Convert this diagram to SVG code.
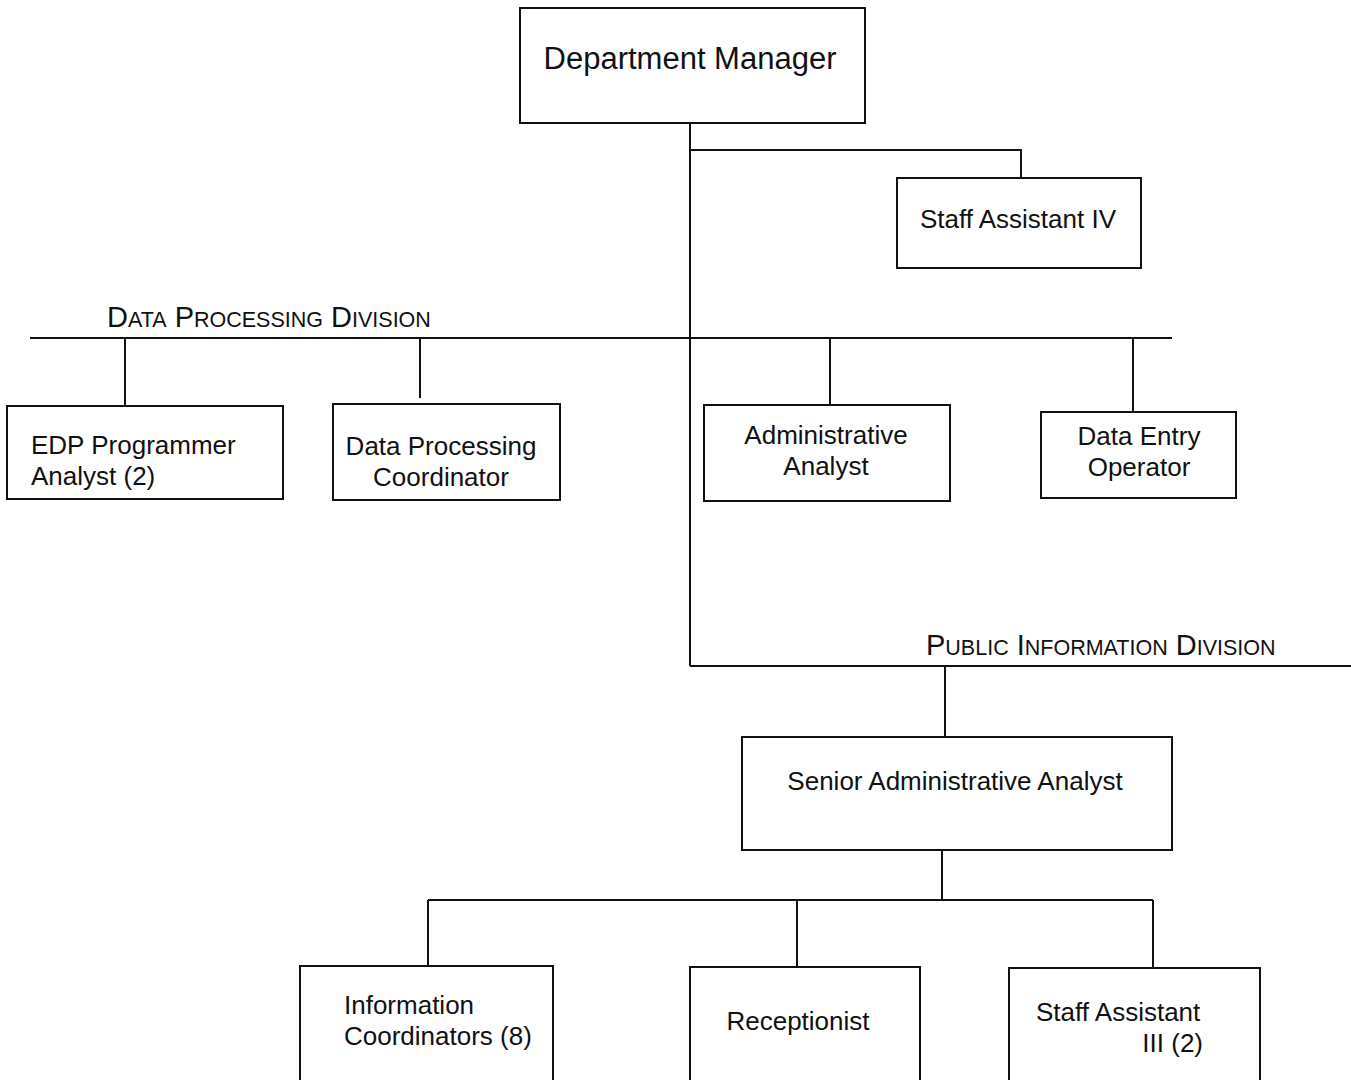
<svg xmlns="http://www.w3.org/2000/svg" width="1351" height="1080" viewBox="0 0 1351 1080">
<style>
.box{fill:#fff;stroke:#111;stroke-width:2}
.ln{stroke:#111;stroke-width:2;fill:none}
text{font-family:"Liberation Sans",Arial,sans-serif;fill:#111;font-size:26px}
.c{text-anchor:middle}
.big{font-size:31px}
.sc{font-size:29px}
.sm{font-size:21.5px}
</style>
<rect width="1351" height="1080" fill="#fff"/>
<g id="connectors">
<path class="ln" d="M690 123V666"/>
<path class="ln" d="M690 150H1021V178"/>
<path class="ln" d="M30 338H1172"/>
<path class="ln" d="M125 338V406M420 338V398M830 338V405M1133 338V412"/>
<path class="ln" d="M690 666H1351"/>
<path class="ln" d="M945 666V737"/>
<path class="ln" d="M942 850V900M428 900H1153M428 900V966M797 900V967M1153 900V968"/>
</g>
<g id="label-dp"><text x="107" y="327" class="sc">D<tspan class="sm">ATA</tspan> P<tspan class="sm">ROCESSING</tspan> D<tspan class="sm">IVISION</tspan></text></g>
<g id="label-pi"><text x="926" y="655" class="sc">P<tspan class="sm">UBLIC</tspan> I<tspan class="sm">NFORMATION</tspan> D<tspan class="sm">IVISION</tspan></text></g>
<g id="dept-manager"><rect class="box" x="520" y="8" width="345" height="115"/><text class="c big" x="690" y="69">Department Manager</text></g>
<g id="staff-assistant-iv"><rect class="box" x="897" y="178" width="244" height="90"/><text class="c" x="1018" y="228">Staff Assistant IV</text></g>
<g id="edp"><rect class="box" x="7" y="406" width="276" height="93"/><text x="31" y="454">EDP Programmer</text><text x="31" y="485">Analyst (2)</text></g>
<g id="dpc"><rect class="box" x="333" y="404" width="227" height="96"/><text class="c" x="441" y="455">Data Processing</text><text class="c" x="441" y="486">Coordinator</text></g>
<g id="admin-analyst"><rect class="box" x="704" y="405" width="246" height="96"/><text class="c" x="826" y="444">Administrative</text><text class="c" x="826" y="475">Analyst</text></g>
<g id="data-entry"><rect class="box" x="1041" y="412" width="195" height="86"/><text class="c" x="1139" y="445">Data Entry</text><text class="c" x="1139" y="476">Operator</text></g>
<g id="senior-admin"><rect class="box" x="742" y="737" width="430" height="113"/><text class="c" x="955" y="790">Senior Administrative Analyst</text></g>
<g id="info-coord"><rect class="box" x="300" y="966" width="253" height="130"/><text x="344" y="1014">Information</text><text x="344" y="1045">Coordinators (8)</text></g>
<g id="receptionist"><rect class="box" x="690" y="967" width="230" height="130"/><text class="c" x="798" y="1030">Receptionist</text></g>
<g id="staff-assistant-iii"><rect class="box" x="1009" y="968" width="251" height="130"/><text x="1036" y="1021">Staff Assistant</text><text x="1203" y="1052" text-anchor="end">III (2)</text></g>
</svg>
